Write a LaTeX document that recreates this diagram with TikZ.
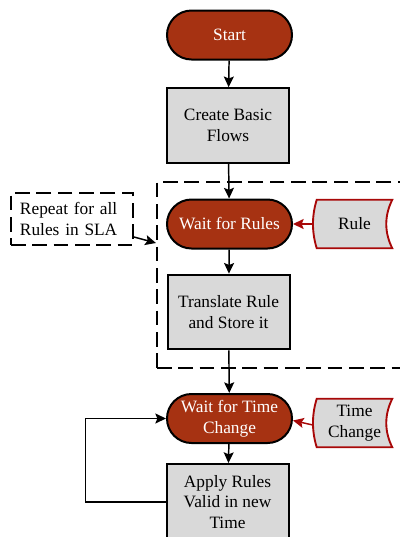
\documentclass[tikz,border=0pt]{standalone}
\usepackage{fontspec}
\setmainfont{Liberation Serif}
\usetikzlibrary{arrows.meta,shapes.misc,backgrounds}
\definecolor{termfill}{RGB}{166,50,18}
\definecolor{boxg}{RGB}{217,217,217}
\definecolor{docred}{RGB}{168,8,8}
\begin{document}
\begin{tikzpicture}[x=0.75pt,y=-0.75pt,
  every node/.style={font=\fontsize{13}{15.5}\selectfont, align=center},
  term/.style={rounded rectangle, draw=black, line width=1.5pt, fill=termfill, text=white,
    minimum width=93.75pt, minimum height=36.75pt, inner sep=0pt},
  procbox/.style={rectangle, draw=black, line width=1.5pt, fill=boxg,
    minimum width=91.5pt, minimum height=56pt, inner sep=0pt},
  docnode/.style={rectangle, minimum width=56.25pt, minimum height=36pt, inner sep=0pt},
  docline/.style={draw=docred, line width=1.4pt, fill=boxg},
  dashbox/.style={rectangle, draw=black, line width=1.6pt, dash pattern=on 11pt off 5pt, fill=none},
  arr/.style={draw=black, line width=1.1pt, -{Stealth[length=8pt,width=7.5pt,inset=1.5pt]}},
  redarr/.style={draw=docred, line width=1.1pt, -{Stealth[length=8pt,width=7.5pt,inset=1.5pt]}}
]
\useasboundingbox (0,0) rectangle (400,537);
\clip (0,0) rectangle (400,537);

% dashed region
\node[dashbox, minimum width=186pt, minimum height=139.5pt] (region) at (281,275) {};

% main nodes
\node[term] (start) at (229.5,35) {Start};
\node[procbox] (create) at (228,125.5) {Create Basic\\Flows};
\node[term] (wr) at (229.5,224) {Wait for Rules};
\node[procbox] (trans) at (228.5,312) {Translate Rule\\and Store it};
\node[term] (wt) at (229.5,418.5) {Wait for Time\\Change};
\node[procbox, minimum height=57pt] (apply) at (227.5,502) {Apply Rules\\Valid in new\\Time};

% note
\node[dashbox, minimum width=91.5pt, minimum height=39pt] (note) at (72,219) {};
\node[align=left, text width=78pt, inner sep=0pt] (notetext) at (72,219) {Repeat for all\\Rules in SLA};

% document shapes
\node[docnode] (rule) at (354.5,224) {};
\node[docnode] (tc) at (354.5,423) {};
\begin{scope}[on background layer]
\end{scope}
\path[docline] (rule.north west) .. controls +(-5,16) and +(-5,-16) .. (rule.south west)
  -- (rule.south east) .. controls +(-8,-16) and +(-8,16) .. (rule.north east) -- cycle;
\path[docline] (tc.north west) .. controls +(-5,16) and +(-5,-16) .. (tc.south west)
  -- (tc.south east) .. controls +(-8,-16) and +(-8,16) .. (tc.north east) -- cycle;
\node at (rule) {Rule};
\node at (tc) {Time\\Change};

% connectors
\draw[arr] (start) -- (create);
\draw[arr] (create) -- (wr);
\draw[arr] (wr) -- (trans);
\draw[arr] (trans) -- (wt);
\draw[arr] (wt) -- (apply);
\draw[arr] (apply.west) -- ++(-80,0) |- (wt.west);
\draw[redarr] ([xshift=-3pt]rule.west) -- (wr.east);
\draw[redarr] ([xshift=-3pt,yshift=-1.5pt]tc.west) -- ([yshift=-1.5pt]wt.east);
\draw[arr] ([yshift=-13.5pt]note.east) -- ([yshift=24pt]region.west);
\end{tikzpicture}
\end{document}
